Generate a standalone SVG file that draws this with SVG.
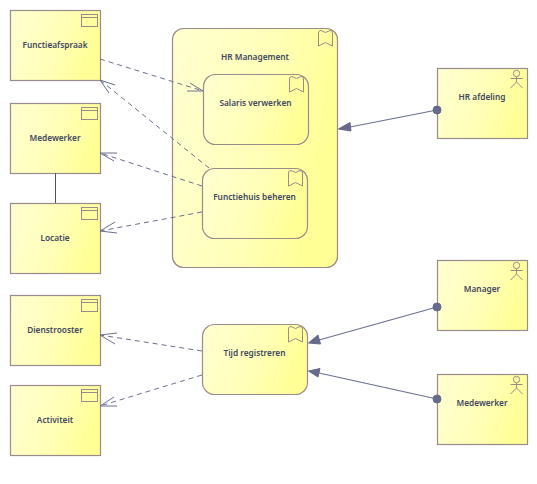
<svg xmlns="http://www.w3.org/2000/svg" width="537" height="484" viewBox="0 0 537 484">
<style>
.b{stroke:#9a8a8a;stroke-width:1.2;fill:url(#g)}
.i{fill:none;stroke:#9a8a8a;stroke-width:1}
text{font-family:"Noto Sans","Liberation Sans",sans-serif;font-size:8.300px;font-weight:600;fill:#3f4660;text-anchor:middle}
.d{fill:none;stroke:#6a7090;stroke-width:1;stroke-dasharray:5 4}
.a{fill:none;stroke:#6a7090;stroke-width:1}
.s{fill:none;stroke:#6a7090;stroke-width:1.100}
.h{fill:#656b88;stroke:#656b88}
</style>
<defs>
<linearGradient id="g" x1="0" y1="0" x2="1" y2="0.25"><stop offset="0" stop-color="#ffffd2"/><stop offset="0.6" stop-color="#ffffb8"/><stop offset="1" stop-color="#ffff96"/></linearGradient>
<g id="win"><rect class="i" x="0" y="0" width="16" height="12"/><line class="i" x1="0" y1="3" x2="16" y2="3"/></g>
<g id="flag"><path class="i" d="M0 16V3Q0 0.500 2.500 0.500L7 2.500L11.500 0.500Q14 0.500 14 3V16L7 12.500Z"/></g>
<g id="actor"><circle class="i" cx="0" cy="3.500" r="3.200"/><path class="i" d="M0 6.700V12M-6 8.500H6M-6 18L0 12L6 18"/></g>
</defs>
<g id="n-functieafspraak"><rect class="b" x="10.500" y="10.500" width="90" height="70"/><use href="#win" x="81.500" y="14.500"/><text x="55" y="48">Functieafspraak</text></g>
<g id="n-medewerker"><rect class="b" x="10.500" y="103.500" width="90" height="70"/><use href="#win" x="81.500" y="107.500"/><text x="55" y="141">Medewerker</text></g>
<g id="n-locatie"><rect class="b" x="10.500" y="203.500" width="90" height="70"/><use href="#win" x="81.500" y="207.500"/><text x="55" y="241">Locatie</text></g>
<g id="n-dienstrooster"><rect class="b" x="10.500" y="295.500" width="90" height="70"/><use href="#win" x="81.500" y="299.500"/><text x="55" y="333">Dienstrooster</text></g>
<g id="n-activiteit"><rect class="b" x="10.500" y="385.500" width="90" height="70"/><use href="#win" x="81.500" y="389.500"/><text x="55" y="423">Activiteit</text></g>
<g id="n-hr-management"><rect class="b" x="172.500" y="28.500" width="165" height="239" rx="11"/><use href="#flag" x="318.500" y="30"/><text x="255" y="60">HR Management</text></g>
<g id="n-salaris"><rect class="b" x="203.500" y="74.500" width="105" height="70" rx="12"/><use href="#flag" x="289.500" y="76"/><text x="255.500" y="106">Salaris verwerken</text></g>
<g id="n-functiehuis"><rect class="b" x="202.500" y="168.500" width="105" height="70" rx="12"/><use href="#flag" x="288.500" y="170"/><text x="254.500" y="200">Functiehuis beheren</text></g>
<g id="n-tijd"><rect class="b" x="202.500" y="324.500" width="105" height="70" rx="12"/><use href="#flag" x="288.500" y="326"/><text x="254.500" y="356">Tijd registreren</text></g>
<g id="n-hr-afdeling"><rect class="b" x="437.500" y="68.500" width="90" height="70"/><use href="#actor" x="516.500" y="70"/><text x="482" y="100">HR afdeling</text></g>
<g id="n-manager"><rect class="b" x="437.500" y="260.500" width="90" height="70"/><use href="#actor" x="516.500" y="262"/><text x="482" y="292">Manager</text></g>
<g id="n-medewerker2"><rect class="b" x="437.500" y="374.500" width="90" height="70"/><use href="#actor" x="516.500" y="376"/><text x="482" y="406">Medewerker</text></g>
<g id="connectors">
<path class="d" d="M100 59L203 91"/><path class="a" d="M190 83L203 91L187 91"/>
<path class="d" d="M209 168L100 80"/><path class="a" d="M115 85L100 80L109 93"/>
<path class="d" d="M202 186L100 153"/><path class="a" d="M117 153L100 153L114 161"/>
<path class="d" d="M202 212L100 231"/><path class="a" d="M115 222L100 231L117 233"/>
<path class="d" d="M202 351L100 335"/><path class="a" d="M117 333L100 335L115 344"/>
<path class="d" d="M202 375L100 406"/><path class="a" d="M114 397L100 406L117 406"/>
<line x1="55.500" y1="173" x2="55.500" y2="203" stroke="#555" stroke-width="1"/>
<path class="s" d="M437 110L350 127"/><path class="h" d="M338.500 129L350 122.500L351 131Z"/><circle class="h" cx="437" cy="110" r="4"/>
<path class="s" d="M437 307L319 340"/><path class="h" d="M308.500 343L318 335L320.500 344Z"/><circle class="h" cx="437" cy="307" r="4"/>
<path class="s" d="M437 399L319 373"/><path class="h" d="M308.500 371L320 368.500L318 377Z"/><circle class="h" cx="437" cy="399" r="4"/>
</g>
</svg>
